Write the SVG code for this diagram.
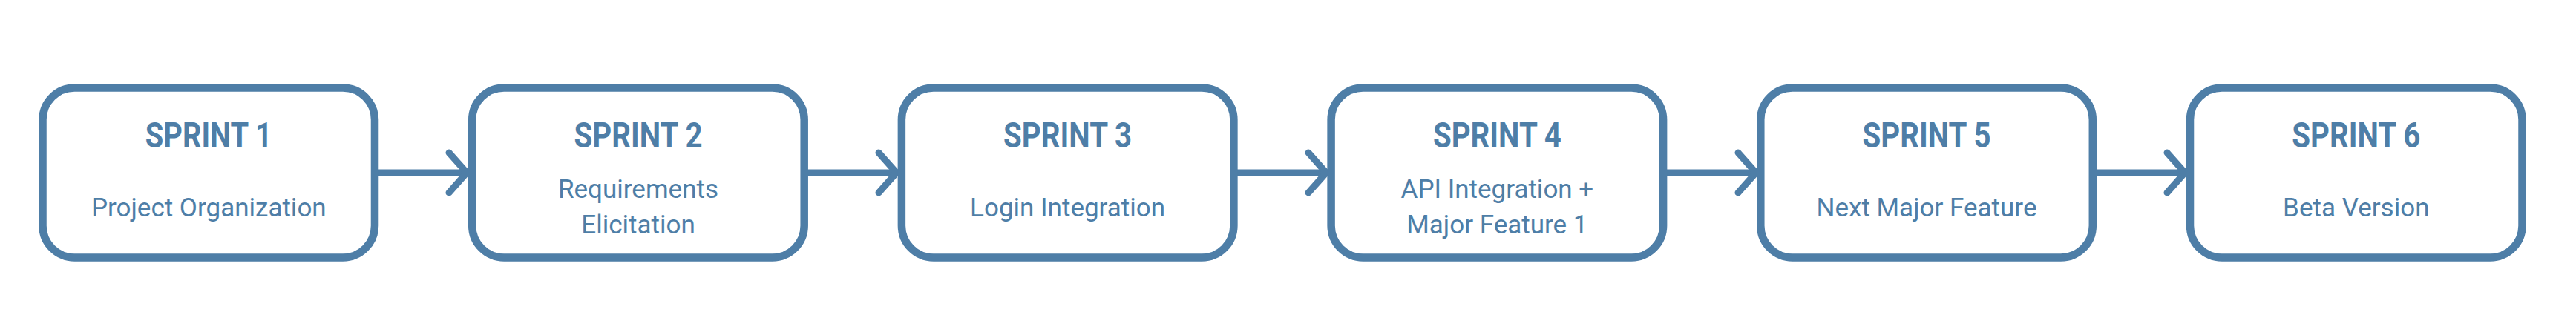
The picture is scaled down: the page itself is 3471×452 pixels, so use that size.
<svg xmlns="http://www.w3.org/2000/svg" width="3471" height="452" viewBox="0 0 3471 452">
<style>
.box{fill:#ffffff;stroke:#4e7ea7;stroke-width:10.5}
.title{font-family:Roboto,"Liberation Sans",sans-serif;font-weight:700;font-size:48px;fill:#4e7ea7;text-anchor:middle}
.sub{font-family:Roboto,"Liberation Sans",sans-serif;font-weight:400;font-size:35px;fill:#4e7ea7;text-anchor:middle}
.conn{fill:none;stroke:#4e7ea7;stroke-width:9}
</style>
<defs>
<marker id="arrow" markerUnits="userSpaceOnUse" markerWidth="40" markerHeight="70" viewBox="-32 -35 40 70" refX="0" refY="0" orient="auto">
<path d="M-24,-27 L0,0 L-24,27" fill="none" stroke="#4e7ea7" stroke-width="9" stroke-linecap="round" stroke-linejoin="round"/>
</marker>
</defs>
<rect width="3471" height="452" fill="#ffffff"/>
<g id="connectors">
<path class="conn" d="M505 233 H629" marker-end="url(#arrow)"/>
<path class="conn" d="M1083.7 233 H1208" marker-end="url(#arrow)"/>
<path class="conn" d="M1662.4 233 H1787" marker-end="url(#arrow)"/>
<path class="conn" d="M2241.1 233 H2366" marker-end="url(#arrow)"/>
<path class="conn" d="M2819.8 233 H2944" marker-end="url(#arrow)"/>
</g>
<g id="sprint1">
<rect class="box" x="57.5" y="118.5" width="447.5" height="229" rx="43"/>
<text class="title" x="281.3" y="199" textLength="171" lengthAdjust="spacingAndGlyphs">SPRINT 1</text>
<text class="sub" x="281.3" y="292">Project Organization</text>
</g>
<g id="sprint2">
<rect class="box" x="636.2" y="118.5" width="447.5" height="229" rx="43"/>
<text class="title" x="860" y="199" textLength="173" lengthAdjust="spacingAndGlyphs">SPRINT 2</text>
<text class="sub" x="860" y="267">Requirements</text>
<text class="sub" x="860" y="315">Elicitation</text>
</g>
<g id="sprint3">
<rect class="box" x="1214.9" y="118.5" width="447.5" height="229" rx="43"/>
<text class="title" x="1438.6" y="199" textLength="173" lengthAdjust="spacingAndGlyphs">SPRINT 3</text>
<text class="sub" x="1438.6" y="292">Login Integration</text>
</g>
<g id="sprint4">
<rect class="box" x="1793.6" y="118.5" width="447.5" height="229" rx="43"/>
<text class="title" x="2017.4" y="199" textLength="173" lengthAdjust="spacingAndGlyphs">SPRINT 4</text>
<text class="sub" x="2017.4" y="267">API Integration +</text>
<text class="sub" x="2017.4" y="315">Major Feature 1</text>
</g>
<g id="sprint5">
<rect class="box" x="2372.3" y="118.5" width="447.5" height="229" rx="43"/>
<text class="title" x="2596" y="199" textLength="173" lengthAdjust="spacingAndGlyphs">SPRINT 5</text>
<text class="sub" x="2596" y="292">Next Major Feature</text>
</g>
<g id="sprint6">
<rect class="box" x="2951" y="118.5" width="447.5" height="229" rx="43"/>
<text class="title" x="3174.8" y="199" textLength="173" lengthAdjust="spacingAndGlyphs">SPRINT 6</text>
<text class="sub" x="3174.8" y="292">Beta Version</text>
</g>
</svg>
